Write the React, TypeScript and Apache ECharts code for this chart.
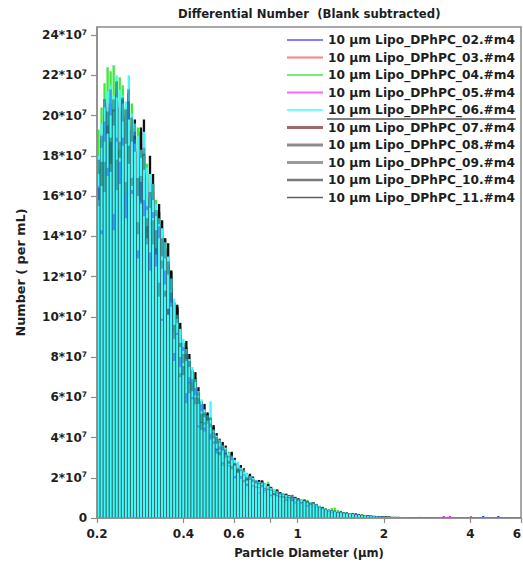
import React, { useEffect, useRef } from 'react';
import * as echarts from 'echarts';

const UNIT = 1e7;
const D_MIN = 0.2;
const D_MAX = 6;
const BIN_COUNT = 140;
// log-spaced size channels of the counter (histogram categories)
const BIN_EDGES = Array.from({ length: BIN_COUNT + 1 }, (_, i) => D_MIN * Math.pow(D_MAX / D_MIN, i / BIN_COUNT));

const SERIES_NAMES = [
  '10 µm Lipo_DPhPC_02.#m4',
  '10 µm Lipo_DPhPC_03.#m4',
  '10 µm Lipo_DPhPC_04.#m4',
  '10 µm Lipo_DPhPC_05.#m4',
  '10 µm Lipo_DPhPC_06.#m4',
  '10 µm Lipo_DPhPC_07.#m4',
  '10 µm Lipo_DPhPC_08.#m4',
  '10 µm Lipo_DPhPC_09.#m4',
  '10 µm Lipo_DPhPC_10.#m4',
  '10 µm Lipo_DPhPC_11.#m4',
];

// values in units of 10^7 per mL, one per size channel
const S02 = [
  15.8, 14.1, 18.7, 17.0, 20.0, 14.3, 18.7, 16.6, 18.5, 14.9,
  19.8, 16.1, 18.2, 12.9, 15.6, 15.0, 15.3, 12.3, 14.9, 12.5,
  13.9, 9.8, 11.6, 10.1, 10.5, 7.8, 9.1, 7.5, 8.3, 5.7,
  6.7, 5.9, 6.1, 4.5, 5.3, 4.3, 4.7, 3.9, 3.7, 3.2,
  3.4, 2.6, 3.15, 2.56, 2.88, 1.97, 2.38, 1.95, 2.11, 1.58,
  1.89, 1.6, 1.77, 1.22, 1.53, 1.33, 1.41, 1.08, 1.31, 1.08,
  1.16, 0.82, 0.98, 0.86, 0.92, 0.72, 0.86, 0.72, 0.82, 0.56,
  0.68, 0.58, 0.6, 0.43, 0.47, 0.37, 0.39, 0.26, 0.3, 0.25,
  0.26, 0.2, 0.22, 0.19, 0.19, 0.14, 0.14, 0.12, 0.12, 0.09,
  0.09, 0.07, 0.08, 0.06, 0.06, 0.05, 0.05, 0.04, 0.04, 0.04,
  0.03, 0.03, 0.03, 0.02, 0.02, 0.02, 0.02, 0.02, 0.02, 0.01,
  0.01, 0.01, 0.01, 0.01, 0.01, 0.01, 0.01, 0.01, 0.01, 0.01,
  0.01, 0.01, 0.01, 0.01, 0.01, 0.01, 0.01, 0.1, 0.01, 0.01,
  0.01, 0.01, 0.1, 0.01, 0.01, 0.01, 0.01, 0.01, 0.01, 0.01,
];
const S03 = [
  16.5, 14.3, 19.7, 17.4, 21.3, 15.1, 18.9, 17.7, 18.9, 16.1,
  20.7, 16.3, 19.2, 13.3, 16.7, 15.8, 15.5, 13.2, 15.2, 13.4,
  14.5, 9.9, 12.3, 10.4, 11.2, 8.2, 9.2, 8.0, 8.5, 6.2,
  7.0, 6.0, 6.45, 4.6, 5.65, 4.5, 4.75, 4.2, 3.8, 3.45,
  3.55, 2.64, 3.33, 2.62, 3.07, 2.09, 2.41, 2.08, 2.16, 1.71,
  1.97, 1.62, 1.87, 1.26, 1.64, 1.4, 1.43, 1.16, 1.34, 1.16,
  1.21, 0.83, 1.04, 0.88, 1.15, 0.76, 0.87, 0.77, 0.84, 0.61,
  0.71, 0.59, 0.63, 0.44, 0.5, 0.39, 0.39, 0.28, 0.31, 0.27,
  0.28, 0.22, 0.24, 0.2, 0.21, 0.24, 0.15, 0.14, 0.13, 0.1,
  0.1, 0.08, 0.09, 0.07, 0.06, 0.06, 0.05, 0.05, 0.05, 0.04,
  0.04, 0.03, 0.03, 0.03, 0.03, 0.02, 0.02, 0.02, 0.02, 0.02,
  0.02, 0.01, 0.01, 0.01, 0.01, 0.01, 0.01, 0.01, 0.01, 0.01,
  0.01, 0.01, 0.01, 0.08, 0.01, 0.01, 0.01, 0.01, 0.01, 0.01,
  0.01, 0.01, 0.01, 0.01, 0.01, 0.01, 0.01, 0.01, 0.01, 0.01,
];
const S04 = [
  19.3, 20.4, 21.6, 22.4, 22.2, 22.5, 21.6, 21.9, 21.5, 20.4,
  20.8, 20.6, 19.4, 19.4, 18.0, 18.2, 17.6, 16.7, 16.2, 15.8,
  14.7, 14.2, 13.9, 12.6, 12.3, 10.7, 10.0, 9.5, 8.7, 8.3,
  7.8, 7.3, 7.0, 6.2, 5.8, 5.5, 5.0, 4.7, 4.5, 4.0,
  3.8, 3.7, 3.4, 3.3, 3.0, 2.95, 2.7, 2.6, 2.35, 2.25,
  2.05, 2.05, 1.85, 1.85, 1.75, 1.75, 1.8, 1.5, 1.4, 1.4,
  1.2, 1.25, 1.1, 1.15, 1.0, 1.05, 0.92, 0.95, 0.85, 0.9,
  0.78, 0.76, 0.66, 0.62, 0.5, 0.48, 0.45, 0.5, 0.52, 0.4,
  0.36, 0.3, 0.28, 0.25, 0.24, 0.2, 0.18, 0.2, 0.15, 0.13,
  0.12, 0.11, 0.1, 0.09, 0.08, 0.07, 0.06, 0.06, 0.05, 0.05,
  0.04, 0.04, 0.04, 0.03, 0.03, 0.03, 0.06, 0.02, 0.02, 0.02,
  0.02, 0.02, 0.01, 0.01, 0.01, 0.01, 0.01, 0.01, 0.01, 0.01,
  0.01, 0.01, 0.01, 0.01, 0.01, 0.01, 0.01, 0.01, 0.01, 0.01,
  0.01, 0.01, 0.01, 0.01, 0.01, 0.01, 0.01, 0.01, 0.01, 0.01,
];
const S05 = [
  17.4, 19.1, 20.1, 20.6, 20.8, 20.4, 21.3, 20.7, 20.3, 20.1,
  21.3, 19.5, 19.0, 18.4, 17.7, 18.6, 16.9, 16.6, 16.1, 15.1,
  14.4, 14.0, 13.3, 12.6, 11.5, 10.6, 9.8, 9.1, 8.6, 8.1,
  7.7, 7.3, 6.7, 6.1, 5.7, 5.2, 4.9, 5.0, 4.3, 4.0,
  3.8, 3.5, 3.4, 3.1, 3.0, 2.8, 2.7, 2.4, 2.3, 2.1,
  2.0, 1.95, 1.85, 1.75, 1.75, 1.65, 1.55, 1.45, 1.4, 1.3,
  1.2, 1.16, 1.12, 1.07, 1.02, 0.97, 0.92, 0.87, 0.85, 0.8,
  0.78, 0.72, 0.66, 0.58, 0.5, 0.45, 0.41, 0.37, 0.34, 0.31,
  0.29, 0.27, 0.25, 0.23, 0.21, 0.18, 0.16, 0.15, 0.13, 0.12,
  0.1, 0.1, 0.09, 0.08, 0.07, 0.06, 0.06, 0.05, 0.05, 0.04,
  0.04, 0.04, 0.03, 0.03, 0.03, 0.03, 0.02, 0.02, 0.02, 0.02,
  0.02, 0.02, 0.01, 0.01, 0.1, 0.01, 0.1, 0.01, 0.01, 0.01,
  0.01, 0.01, 0.01, 0.01, 0.01, 0.01, 0.01, 0.01, 0.01, 0.01,
  0.01, 0.01, 0.01, 0.01, 0.01, 0.01, 0.01, 0.01, 0.01, 0.01,
];
const S06 = [
  18.0, 19.6, 20.8, 21.2, 21.5, 21.0, 22.0, 21.3, 21.0, 20.7,
  22.0, 20.1, 19.6, 19.0, 18.3, 19.2, 17.4, 17.1, 16.6, 15.6,
  14.9, 14.4, 13.7, 13.0, 11.9, 10.9, 10.1, 9.4, 8.9, 8.4,
  7.9, 7.5, 6.9, 6.3, 5.9, 5.4, 5.1, 5.8, 4.4, 4.1,
  3.9, 3.6, 3.5, 3.2, 3.1, 2.9, 2.8, 2.5, 2.4, 2.2,
  2.1, 2.0, 1.9, 1.8, 1.8, 1.7, 1.6, 1.5, 1.45, 1.35,
  1.25, 1.2, 1.15, 1.1, 1.05, 1.0, 0.95, 0.9, 0.88, 0.82,
  0.8, 0.74, 0.68, 0.6, 0.52, 0.46, 0.42, 0.38, 0.35, 0.32,
  0.3, 0.28, 0.26, 0.24, 0.22, 0.19, 0.17, 0.15, 0.14, 0.12,
  0.11, 0.1, 0.09, 0.08, 0.07, 0.06, 0.06, 0.05, 0.05, 0.05,
  0.04, 0.04, 0.04, 0.03, 0.03, 0.03, 0.03, 0.02, 0.02, 0.02,
  0.02, 0.02, 0.02, 0.02, 0.01, 0.01, 0.01, 0.01, 0.01, 0.01,
  0.01, 0.01, 0.01, 0.01, 0.01, 0.01, 0.01, 0.01, 0.01, 0.01,
  0.01, 0.01, 0.01, 0.01, 0.01, 0.01, 0.01, 0.01, 0.01, 0.01,
];
const S07 = [
  15.5, 18.4, 16.2, 19.1, 17.6, 20.2, 16.3, 18.3, 19.7, 16.1,
  19.8, 16.5, 18.8, 14.1, 15.7, 18.0, 13.6, 15.4, 13.6, 15.0,
  11.0, 12.4, 12.9, 10.1, 10.7, 8.9, 9.7, 7.0, 7.7, 7.9,
  6.2, 6.75, 5.65, 6.05, 4.37, 4.64, 4.79, 4.52, 3.96, 3.36,
  3.74, 2.66, 3.01, 3.01, 2.42, 2.61, 2.3, 2.4, 1.78, 1.89,
  1.97, 1.56, 1.71, 1.48, 1.73, 1.26, 1.38, 1.41, 1.13, 1.22,
  1.03, 1.15, 0.85, 0.95, 0.99, 0.78, 0.86, 0.74, 0.84, 0.61,
  0.69, 0.7, 0.53, 0.54, 0.43, 0.44, 0.31, 0.33, 0.33, 0.25,
  0.27, 0.24, 0.22, 0.22, 0.19, 0.17, 0.15, 0.13, 0.12, 0.11,
  0.09, 0.09, 0.08, 0.07, 0.06, 0.05, 0.05, 0.05, 0.04, 0.04,
  0.04, 0.03, 0.03, 0.03, 0.03, 0.02, 0.02, 0.02, 0.02, 0.02,
  0.01, 0.01, 0.01, 0.01, 0.01, 0.01, 0.01, 0.01, 0.01, 0.01,
  0.01, 0.01, 0.01, 0.01, 0.01, 0.01, 0.01, 0.01, 0.01, 0.01,
  0.01, 0.01, 0.01, 0.01, 0.01, 0.01, 0.01, 0.01, 0.01, 0.01,
];
const S08 = [
  16.4, 19.0, 17.7, 19.5, 18.7, 20.8, 17.8, 18.7, 20.8, 16.7,
  21.3, 16.9, 19.8, 14.7, 17.0, 18.4, 14.5, 15.9, 14.8, 15.3,
  11.7, 12.8, 13.9, 10.4, 11.3, 9.2, 10.4, 7.2, 8.15, 8.15,
  6.75, 6.9, 6.0, 6.25, 4.78, 4.75, 5.05, 4.69, 4.27, 3.44,
  3.94, 2.77, 3.26, 3.07, 2.58, 2.7, 2.5, 2.45, 1.9, 1.96,
  2.12, 1.6, 1.81, 1.53, 1.86, 1.29, 1.46, 1.46, 1.23, 1.25,
  1.09, 1.19, 0.93, 0.97, 1.04, 0.81, 0.93, 0.76, 0.88, 0.63,
  0.75, 0.71, 0.56, 0.56, 0.47, 0.45, 0.33, 0.34, 0.35, 0.26,
  0.29, 0.26, 0.25, 0.23, 0.21, 0.18, 0.16, 0.15, 0.13, 0.12,
  0.1, 0.1, 0.09, 0.08, 0.07, 0.06, 0.06, 0.05, 0.05, 0.05,
  0.04, 0.04, 0.04, 0.03, 0.03, 0.03, 0.02, 0.02, 0.02, 0.02,
  0.02, 0.02, 0.01, 0.01, 0.01, 0.01, 0.01, 0.01, 0.01, 0.01,
  0.01, 0.01, 0.01, 0.01, 0.01, 0.01, 0.01, 0.01, 0.01, 0.01,
  0.01, 0.01, 0.01, 0.01, 0.01, 0.01, 0.01, 0.01, 0.01, 0.01,
];
const S09 = [
  17.1, 16.5, 20.4, 19.1, 17.2, 19.5, 20.9, 17.9, 20.6, 18.6,
  17.6, 18.7, 18.6, 16.0, 17.9, 17.3, 13.9, 15.9, 15.8, 13.1,
  14.6, 13.0, 11.0, 12.1, 11.3, 9.2, 9.9, 8.5, 7.1, 7.8,
  7.5, 6.3, 6.76, 5.67, 4.72, 5.02, 4.85, 4.87, 4.31, 3.69,
  3.12, 3.35, 3.33, 2.69, 3.04, 2.61, 2.24, 2.33, 2.28, 1.85,
  2.06, 1.8, 1.52, 1.67, 1.71, 1.43, 1.57, 1.35, 1.16, 1.26,
  1.19, 1.01, 1.13, 0.99, 0.84, 0.93, 0.9, 0.76, 0.86, 0.74,
  0.64, 0.69, 0.65, 0.5, 0.51, 0.41, 0.34, 0.35, 0.33, 0.27,
  0.28, 0.25, 0.24, 0.21, 0.2, 0.18, 0.15, 0.14, 0.13, 0.11,
  0.1, 0.09, 0.08, 0.07, 0.07, 0.06, 0.05, 0.05, 0.04, 0.04,
  0.04, 0.03, 0.03, 0.03, 0.02, 0.02, 0.02, 0.02, 0.02, 0.02,
  0.01, 0.01, 0.01, 0.01, 0.01, 0.01, 0.01, 0.01, 0.01, 0.01,
  0.01, 0.01, 0.01, 0.01, 0.01, 0.01, 0.01, 0.01, 0.01, 0.01,
  0.01, 0.01, 0.01, 0.01, 0.01, 0.01, 0.01, 0.01, 0.01, 0.01,
];
const S10 = [
  17.8, 17.7, 20.8, 20.2, 18.9, 20.3, 21.7, 18.3, 20.9, 20.3,
  18.5, 19.9, 19.0, 16.9, 19.4, 18.1, 14.9, 16.2, 16.6, 14.3,
  15.2, 13.9, 11.3, 12.75, 12.25, 9.6, 10.5, 8.7, 7.55, 8.47,
  7.8, 6.75, 6.9, 5.99, 5.19, 5.24, 5.16, 4.99, 4.53, 4.02,
  3.28, 3.57, 3.4, 2.85, 3.29, 2.73, 2.41, 2.38, 2.4, 2.03,
  2.14, 1.92, 1.56, 1.76, 1.85, 1.5, 1.67, 1.38, 1.23, 1.37,
  1.24, 1.08, 1.15, 1.05, 0.92, 0.97, 0.96, 0.78, 0.9, 0.81,
  0.67, 0.73, 0.66, 0.53, 0.55, 0.43, 0.37, 0.36, 0.35, 0.3,
  0.31, 0.27, 0.25, 0.23, 0.21, 0.19, 0.17, 0.15, 0.14, 0.12,
  0.11, 0.1, 0.09, 0.08, 0.07, 0.07, 0.06, 0.05, 0.05, 0.05,
  0.04, 0.04, 0.04, 0.03, 0.03, 0.03, 0.02, 0.02, 0.02, 0.02,
  0.02, 0.02, 0.02, 0.01, 0.01, 0.01, 0.01, 0.01, 0.01, 0.01,
  0.01, 0.01, 0.01, 0.01, 0.01, 0.01, 0.01, 0.01, 0.01, 0.01,
  0.01, 0.01, 0.01, 0.01, 0.01, 0.01, 0.01, 0.01, 0.01, 0.01,
];
const S11 = [
  17.3, 18.8, 20.0, 20.4, 20.6, 20.2, 21.1, 20.4, 20.2, 19.9,
  21.1, 19.3, 18.8, 18.2, 19.2, 19.8, 17.1, 18.0, 17.1, 15.3,
  15.6, 14.8, 13.4, 13.65, 12.3, 10.7, 10.6, 9.7, 8.7, 8.8,
  8.15, 7.35, 7.25, 6.5, 5.8, 5.67, 5.25, 4.9, 4.62, 4.22,
  3.82, 3.78, 3.6, 3.14, 3.26, 2.99, 2.74, 2.63, 2.47, 2.16,
  2.2, 2.06, 1.86, 1.89, 1.85, 1.67, 1.68, 1.55, 1.42, 1.42,
  1.29, 1.18, 1.21, 1.13, 1.03, 1.05, 0.98, 0.88, 0.92, 0.84,
  0.78, 0.78, 0.7, 0.59, 0.55, 0.47, 0.41, 0.4, 0.36, 0.31,
  0.31, 0.29, 0.28, 0.25, 0.23, 0.21, 0.18, 0.16, 0.15, 0.13,
  0.12, 0.11, 0.1, 0.09, 0.08, 0.07, 0.07, 0.06, 0.06, 0.06,
  0.05, 0.05, 0.05, 0.04, 0.04, 0.04, 0.04, 0.03, 0.03, 0.03,
  0.02, 0.02, 0.02, 0.02, 0.02, 0.02, 0.02, 0.02, 0.02, 0.02,
  0.01, 0.01, 0.01, 0.01, 0.01, 0.01, 0.01, 0.01, 0.01, 0.01,
  0.01, 0.01, 0.01, 0.01, 0.01, 0.01, 0.01, 0.01, 0.01, 0.01,
];

const SERIES_VALUES = [S02, S03, S04, S05, S06, S07, S08, S09, S10, S11];

const X_LABEL_VALUES = [0.2, 0.4, 0.6, 1, 2, 4, 6];
const X_TICK_VALUES = [0.2, 0.4, 0.6, 0.8, 1, 2, 4, 6];
const Y_TICK_UNITS = [0, 2, 4, 6, 8, 10, 12, 14, 16, 18, 20, 22, 24];
const Y_MAX_UNITS = 24.4;

// styles
const FONT = 'DejaVu Sans';
const TEXT_COLOR = '#1e1e1e';
const AXIS_COLOR = '#8c8c8c';
const CYAN_INDEX = 4;
const BAR_COLORS = ['#3355ff', '#ff3a3a', '#3fe83f', '#ee33ee', '#40f8f8', '#5a1e1e', '#222222', '#333333', '#222222', '#111111'];
const LEGEND_COLORS = ['#8080ff', '#ff8080', '#70f070', '#ff66ff', '#70ffff', '#a06a6a', '#8c8c8c', '#9a9a9a', '#7a7a7a', '#606060'];
const LEGEND_THICKNESS = [2, 2, 2, 2, 2, 3, 3, 3, 2.5, 1.5];
// overlay segments between one run and the next one (series index pairs)
const DASH_PAIRS: [number, number, string][] = [
  [0, 1, 'rgba(30,80,255,0.5)'],
  [5, 6, 'rgba(0,0,0,0.26)'],
  [7, 8, 'rgba(0,0,0,0.32)'],
];

function rectRenderer(color: string) {
  return (_params: any, api: any) => {
    const a = api.coord([api.value(0), api.value(2)]);
    const b = api.coord([api.value(1), api.value(3)]);
    const x = a[0] + 0.35;
    const w = Math.max(b[0] - a[0] - 0.7, 0.5);
    const y = Math.min(a[1], b[1]);
    const h = Math.abs(a[1] - b[1]);
    if (!(h > 0)) return { type: 'group', children: [] };
    return { type: 'rect', shape: { x, y, width: w, height: h }, style: { fill: color }, silent: true };
  };
}

function buildOption() {
  const series: any[] = [];
  SERIES_VALUES.forEach((vals, k) => {
    const data = vals.map((v, i) => [BIN_EDGES[i], BIN_EDGES[i + 1], 0, v * UNIT]);
    series.push({
      type: 'custom',
      name: SERIES_NAMES[k],
      coordinateSystem: 'cartesian2d',
      renderItem: rectRenderer(BAR_COLORS[k]),
      encode: { x: [0, 1], y: [2, 3] },
      data,
      clip: true,
      z: k === CYAN_INDEX ? 2 : 1,
      silent: true,
    });
  });
  DASH_PAIRS.forEach(([ka, kb, color]) => {
    const va = SERIES_VALUES[ka];
    const vb = SERIES_VALUES[kb];
    const data = va.map((v, i) => [BIN_EDGES[i], BIN_EDGES[i + 1], Math.min(v, vb[i]) * UNIT, Math.max(v, vb[i]) * UNIT]);
    series.push({
      type: 'custom',
      name: 'fill ' + SERIES_NAMES[ka],
      coordinateSystem: 'cartesian2d',
      renderItem: rectRenderer(color),
      encode: { x: [0, 1], y: [2, 3] },
      data,
      clip: true,
      z: 3,
      silent: true,
    });
  });

  const textBase = { fontFamily: FONT, fontWeight: 'bold' as const, color: TEXT_COLOR };

  return {
    animation: false,
    backgroundColor: '#ffffff',
    title: {
      text: 'Differential Number  (Blank subtracted)',
      left: 178,
      top: 8,
      padding: 0,
      textStyle: { ...textBase, fontSize: 11.7 },
    },
    legend: {
      orient: 'vertical',
      left: 287,
      top: 34,
      padding: 0,
      itemWidth: 36,
      itemHeight: 14,
      itemGap: 5.5,
      selectedMode: false,
      textStyle: { ...textBase, fontSize: 12.2 },
      data: SERIES_NAMES.map((n, i) => ({
        name: n,
        icon: `path://M0,0H36V${LEGEND_THICKNESS[i]}H0Z`,
        itemStyle: { color: LEGEND_COLORS[i] },
      })),
    },
    grid: {
      left: 97,
      right: 2,
      top: 27,
      bottom: 46,
      containLabel: false,
      outerBoundsMode: 'none',
      show: true,
      borderColor: AXIS_COLOR,
      borderWidth: 1.5,
      backgroundColor: 'transparent',
    },
    xAxis: {
      type: 'log',
      logBase: 10,
      min: D_MIN,
      max: D_MAX,
      z: 10,
      axisLine: { show: true, onZero: false, lineStyle: { color: AXIS_COLOR, width: 1.5 } },
      axisTick: { show: true, customValues: X_TICK_VALUES, length: 5, lineStyle: { color: AXIS_COLOR, width: 1.2 } },
      minorTick: { show: false },
      splitLine: { show: false },
      axisLabel: {
        customValues: X_LABEL_VALUES,
        formatter: (v: number) => String(+Number(v).toPrecision(3)),
        margin: 10,
        alignMaxLabel: 'right',
        ...textBase,
        fontSize: 12,
      },
      name: 'Particle Diameter (µm)',
      nameLocation: 'middle',
      nameGap: 29,
      nameTextStyle: { ...textBase, fontSize: 11.6 },
    },
    yAxis: {
      type: 'value',
      min: 0,
      max: Y_MAX_UNITS * UNIT,
      z: 10,
      axisLine: { show: true, lineStyle: { color: AXIS_COLOR, width: 1.5 } },
      axisTick: { show: true, customValues: Y_TICK_UNITS.map((u) => u * UNIT), length: 6, lineStyle: { color: AXIS_COLOR, width: 1.2 } },
      splitLine: { show: false },
      axisLabel: {
        customValues: Y_TICK_UNITS.map((u) => u * UNIT),
        margin: 10,
        formatter: (v: number) => {
          const u = Math.round(v / UNIT);
          return u === 0 ? '{a|0}' : `{a|${u}*10}{b|7}`;
        },
        rich: {
          a: { ...textBase, fontSize: 12, lineHeight: 14 },
          b: { ...textBase, fontSize: 7.5, verticalAlign: 'top' },
        },
      },
      name: 'Number ( per mL)',
      nameLocation: 'middle',
      nameRotate: 90,
      nameGap: 70,
      nameTextStyle: { ...textBase, fontSize: 12.8 },
    },
    graphic: [
      {
        type: 'line',
        shape: { x1: 327, y1: 119, x2: 516, y2: 119 },
        style: { stroke: '#555555', lineWidth: 1.3 },
        silent: true,
      },
    ],
    series,
  };
}

export default function App() {
  const ref = useRef<HTMLDivElement>(null);
  useEffect(() => {
    document.body.style.margin = '0';
    if (!ref.current) return;
    const chart = echarts.init(ref.current, undefined, { renderer: 'svg' });
    chart.setOption(buildOption() as any);
    return () => chart.dispose();
  }, []);
  return <div ref={ref} style={{ width: 523, height: 564, position: 'absolute', left: 0, top: 0 }} />;
}
